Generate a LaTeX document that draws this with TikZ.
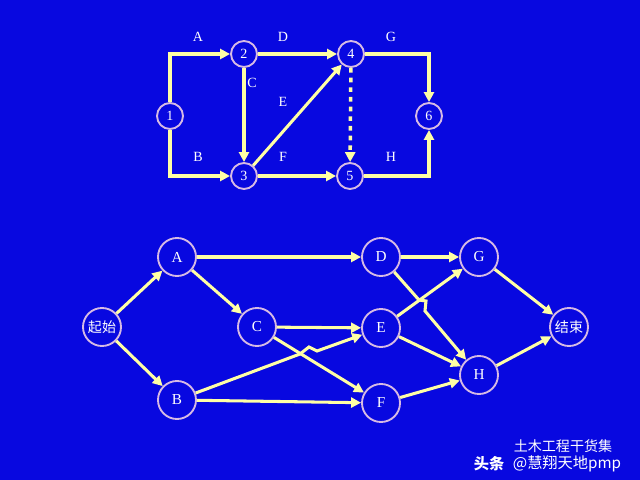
\documentclass[tikz,border=0pt]{standalone}
\usepackage{fontspec}
\setmainfont{Liberation Serif}
\newfontfamily\cjk{Noto Sans CJK SC}
\usetikzlibrary{arrows.meta}
\definecolor{bgblue}{RGB}{8,8,224}
\definecolor{ringcol}{RGB}{214,186,228}
\definecolor{arrowcol}{RGB}{255,255,165}

\begin{document}
\begin{tikzpicture}
  [x=0.03cm,y=-0.03cm,
   ev/.style={circle, draw=ringcol, fill=bgblue, text=white, line width=1.6pt, inner sep=0pt, minimum width=0.78cm, font=\fontsize{12}{14}\selectfont},
   act/.style={ev, minimum width=1.14cm, font=\fontsize{13}{15}\selectfont},
   lbl/.style={text=white, inner sep=0pt, font=\fontsize{12}{14}\selectfont},
   wm/.style={text=white, inner sep=0pt},
   arr/.style={draw=arrowcol, line width=2.6pt, -{Triangle[length=0.3cm,width=0.3cm]}}]

 \fill[bgblue] (0,0) rectangle (640,480);

 % top network
 \node[ev] (n1) at (170,116) {1};
 \node[ev] (n2) at (244,54) {2};
 \node[ev] (n3) at (244,176) {3};
 \node[ev] (n4) at (351,54) {4};
 \node[ev] (n5) at (350,176) {5};
 \node[ev] (n6) at (429,116) {6};

 \draw[arr] (n1) |- (n2);
 \draw[arr] (n1) |- (n3);
 \draw[arr] (n4) -| (n6);
 \draw[arr] (n5) -| (n6);
 \foreach \from/\to in {n2/n3, n2/n4, n3/n5, n3/n4}
   \draw[arr] (\from) -- (\to);
 \draw[arr, line width=3pt, dash pattern=on 0.14cm off 0.15cm] (n4) -- (n5);

 \node[lbl] (lA) at (198,37) {A};
 \node[lbl] (lD) at (283,37) {D};
 \node[lbl] (lG) at (391,37) {G};
 \node[lbl] (lC) at (252,83) {C};
 \node[lbl] (lE) at (283,102) {E};
 \node[lbl] (lB) at (198,157) {B};
 \node[lbl] (lF) at (283,157) {F};
 \node[lbl] (lH) at (391,157) {H};

 % bottom network
 \node[act] (start) at (102,327) {\cjk\fontsize{12}{14}\selectfont 起始};
 \node[act] (a) at (177,257) {A};
 \node[act] (c) at (257,327) {C};
 \node[act] (b) at (177,400) {B};
 \node[act] (d) at (381,257) {D};
 \node[act] (e) at (381,328) {E};
 \node[act] (f) at (381,403) {F};
 \node[act] (g) at (479,257) {G};
 \node[act] (h) at (479,375) {H};
 \node[act] (end) at (569,327) {\cjk\fontsize{12}{14}\selectfont 结束};

 \foreach \from/\to in {start/a, start/b, a/d, a/c, c/e, c/f, b/f, d/g, e/g, e/h, f/h, g/end, h/end}
   \draw[arr] (\from) -- (\to);

 \coordinate (hBE1) at (300,354);
 \coordinate (hBE2) at (309,347);
 \coordinate (hBE3) at (317,351);
 \draw[arr] (b) -- (hBE1) -- (hBE2) -- (hBE3) -- (e);

 \coordinate (hDH1) at (419,300);
 \coordinate (hDH2) at (426,301);
 \coordinate (hDH3) at (425,311);
 \draw[arr] (d) -- (hDH1) -- (hDH2) -- (hDH3) -- (h);

 % watermark
 \node[wm] (wm3) at (563,446) {\cjk\fontsize{12}{14}\selectfont 土木工程干货集};
 \node[wm] (wm1) at (489,464) {\cjk\bfseries\fontsize{13}{15}\selectfont 头条};
 \node[wm] (wm2) at (567,464) {\cjk\fontsize{13}{15}\selectfont @慧翔天地pmp};

\end{tikzpicture}
\end{document}
